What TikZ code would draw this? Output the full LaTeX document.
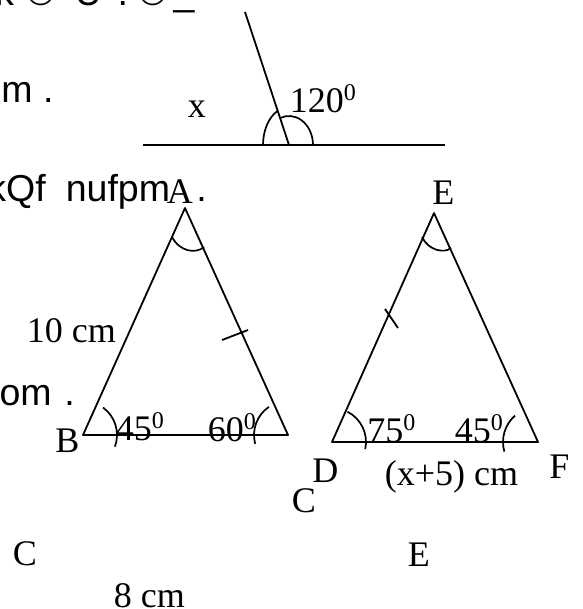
\documentclass[tikz,border=0pt]{standalone}
\usepackage{fontspec}
\setmainfont{Liberation Serif}
\newfontfamily\sansfont{Liberation Sans}
\newcommand{\degsup}{\raisebox{12pt}{\fontsize{24}{24}\selectfont 0}}

\begin{document}
\begin{tikzpicture}[
  x=1pt, y=1pt, yscale=-1,
  line width=1.8pt, line join=round,
  label/.style={anchor=base west,inner sep=0pt,font=\fontsize{36}{40}\selectfont},
  stray/.style={anchor=base west,inner sep=0pt,font=\sansfont\fontsize{37.5}{42}\selectfont},
  anglearc/.style={line width=1.7pt}
]
  \useasboundingbox (0,0) rectangle (582,609);
  \clip (0,0) rectangle (582,609);

  % cut-off text on the left
  \foreach \g/\gx [count=\i] in {k/-5.7, ©/26, U/74, ./116.6, ©/138, \_/172.7}
    \node[stray] (top\i) at (\gx,6) {\g};
  \node[stray] (line2) at (0.5,103) {m .};
  \node[stray] (line3) at (-13.5,202) {kQf\hspace{9.7pt} nufpm\hspace{15.9pt} .};
  \node[stray] (line4) at (-1.4,405) {om\hspace{2.5pt} .};

  % straight angle
  \coordinate (L) at (143,145);
  \coordinate (R) at (445,145);
  \coordinate (O) at (289,145);
  \coordinate (T) at (245,12);
  \draw (L) -- (R);
  \draw (T) -- (O);
  \draw[anglearc] (O) ++(-26,0) arc[start angle=180, end angle=244.2, x radius=26pt, y radius=38pt];
  \draw[anglearc] (O) ++(24,0) arc[start angle=0, end angle=-111.8, x radius=24pt, y radius=29pt];
  \node[label] (xlab) at (187,118) {x};
  \node[label] (ang120) at (289,113) {120\degsup};

  % triangle ABC
  \coordinate (A) at (185,208);
  \coordinate (B) at (83,435);
  \coordinate (C) at (288,435);
  \draw (A) -- (B) -- (C) -- cycle;
  \draw[anglearc] (172,237) .. controls (180,252) and (196,254) .. (204,247);
  \draw[anglearc] (B) ++(-54:34) arc[start angle=-54, end angle=20, radius=34pt];
  \draw[anglearc] (C) ++(236:34) arc[start angle=236, end angle=165, radius=34pt];
  \draw (222,340) -- (248,330);
  \node[label] (labA) at (166,204) {A};
  \node[label] (labB) at (54.5,452) {B};
  \node[label] (side10) at (26,342) {10 cm};
  \node[label] (angB) at (115,440) {45\degsup};
  \node[label] (angC) at (207,441) {60\degsup};

  % triangle DEF
  \coordinate (E) at (434,213);
  \coordinate (D) at (332,442);
  \coordinate (F) at (538,442);
  \draw (E) -- (D) -- (F) -- cycle;
  \draw[anglearc] (422,237) .. controls (428,250) and (444,254) .. (451,248);
  \draw[anglearc] (D) ++(-63:34) arc[start angle=-63, end angle=12, radius=34pt];
  \draw[anglearc] (F) ++(229:35) arc[start angle=229, end angle=164, radius=35pt];
  \draw (385,309) -- (398,328);
  \node[label] (labE) at (431.5,205) {E};
  \node[label] (labD) at (311.5,482) {D};
  \node[label] (labF) at (548.5,478) {F};
  \node[label] (labC) at (291,512) {C};
  \node[label] (angD) at (366.4,442) {75\degsup};
  \node[label] (angF) at (454,442) {45\degsup};
  \node[label] (sideDF) at (384,485) {(x+5) cm};

  % loose labels below
  \node[label] (labC2) at (12,565) {C};
  \node[label] (labE2) at (407,566) {E};
  \node[label] (side8) at (113,607) {8 cm};
\end{tikzpicture}
\end{document}
